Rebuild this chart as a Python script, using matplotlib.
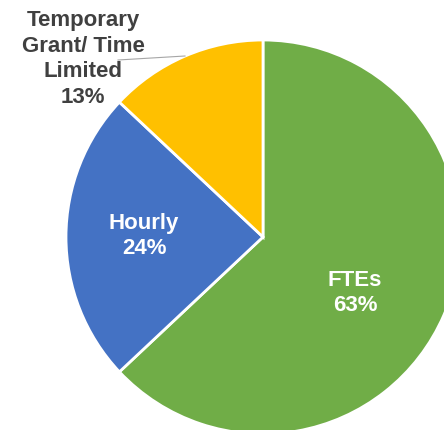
import matplotlib.pyplot as plt

labels = ["FTEs", "Hourly", "Temporary\nGrant/ Time\nLimited"]
shares = [63, 24, 13]
colors = ["#70AD47", "#4472C4", "#FFC000"]

plt.rcParams['font.family'] = ['Liberation Sans', 'DejaVu Sans']

fig = plt.figure(figsize=(4.44, 4.31), dpi=100)
ax = fig.add_axes([0, 0, 1, 1])

# pie centre sits at pixel (263, 238), radius 197 px
R = 197.0
ax.pie(shares, colors=colors, startangle=90, counterclock=False,
       radius=1.0, center=(0, 0),
       wedgeprops=dict(edgecolor="white", linewidth=2))

ax.set_xlim(-263 / R, (444 - 263) / R)
ax.set_ylim(-(431 - 238) / R, 238 / R)
ax.set_aspect('equal')
ax.axis('off')

# data labels
txt = [f"{l}\n{s}%" for l, s in zip(labels, shares)]
ax.text(0.467, -0.279, txt[0], color="white", fontsize=16, fontweight="bold",
        ha="center", va="center", linespacing=1.3)
ax.text(-0.604, 0.01, txt[1], color="white", fontsize=16, fontweight="bold",
        ha="center", va="center", linespacing=1.3)
ax.text(-0.914, 0.909, txt[2], color="#404040", fontsize=16, fontweight="bold",
        ha="center", va="center", linespacing=1.3)

# leader line for the small slice
ax.plot([(118 - 263) / R, (185 - 263) / R], [(238 - 61) / R, (238 - 57) / R],
        color="#a6a6a6", linewidth=0.8)

fig.savefig("out.png", dpi=100)
